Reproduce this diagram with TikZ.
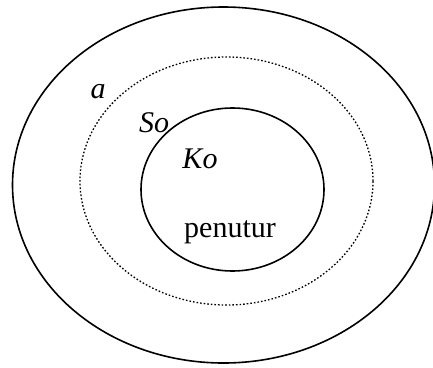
\documentclass[tikz,border=0pt]{standalone}
\usepackage{fontspec}
\setmainfont{Liberation Serif}
\usepackage{tikz}
\usetikzlibrary{shapes.geometric}

\tikzset{
    ring/.style={draw,ellipse,inner sep=0pt,line width=1.6pt},
    lbl/.style={anchor=base,font=\fontsize{30}{36}\selectfont\itshape}
}

\begin{document}
\begin{tikzpicture}[x=1pt,y=-1pt]
    \useasboundingbox (0,0) rectangle (433,367);
    % rings
    \node[ring,minimum width=422pt,minimum height=356pt] (outer) at (223.5,185) {};
    \node[ring,dotted,line width=1.3pt,minimum width=293pt,minimum height=248pt] (middle) at (226.5,181) {};
    \node[ring,minimum width=183pt,minimum height=163pt] (inner) at (232.5,189.5) {};
    % labels
    \node[lbl] (la) at (98,98) {a};
    \node[lbl] (lso) at (154,132) {So};
    \node[lbl] (lko) at (200,168) {Ko};
    \node[lbl,font=\fontsize{30}{36}\selectfont] (lpen) at (230,237) {penutur};
\end{tikzpicture}
\end{document}
